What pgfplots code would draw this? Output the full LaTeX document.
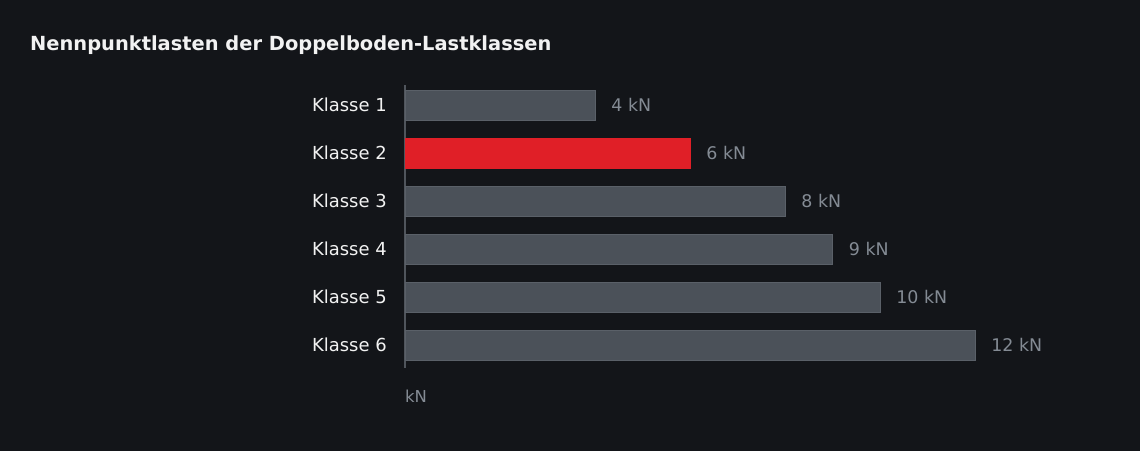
\documentclass[border=0pt]{standalone}
\usepackage{pgfplots}
\pgfplotsset{compat=1.18}
\usepackage{fontspec}
\setmainfont{DejaVu Sans}
\definecolor{bg}{HTML}{131519}
\definecolor{bargray}{HTML}{4B5159}
\definecolor{baredge}{HTML}{5A6068}
\definecolor{barred}{HTML}{E01F27}
\definecolor{txtw}{HTML}{F2F2F2}
\definecolor{txtg}{HTML}{848B94}
\definecolor{axgray}{HTML}{50555C}
\begin{document}
\begin{tikzpicture}
\useasboundingbox (0bp,0bp) rectangle (1140bp,451bp);
\fill[bg] (0bp,0bp) rectangle (1140bp,451bp);
\node[anchor=west, inner sep=0pt, text=txtw,
      font=\bfseries\fontsize{19.5}{23}\selectfont] at (30bp,406bp)
  {Nennpunktlasten der Doppelboden-Lastklassen};
\begin{axis}[
  at={(405bp,83bp)}, anchor=south west,
  scale only axis,
  width=570bp, height=283bp,
  xbar, bar width=30bp, bar shift=0pt,
  xmin=0, xmax=12,
  y dir=reverse,
  ymin=0.583, ymax=6.479,
  axis x line=none,
  axis y line=left,
  y axis line style={-, draw=axgray, line width=1.2bp},
  ytick={1,2,3,4,5,6},
  yticklabels={Klasse 1,Klasse 2,Klasse 3,Klasse 4,Klasse 5,Klasse 6},
  ytick style={draw=none},
  yticklabel style={anchor=east, inner sep=0pt, xshift=-16bp, text=txtw,
                    font=\fontsize{18}{21}\selectfont},
  clip=false,
  point meta=explicit symbolic,
  nodes near coords,
  nodes near coords style={anchor=west, inner sep=0pt, xshift=16bp,
                           text=txtg, font=\fontsize{17.5}{20}\selectfont},
]
\addplot[fill=bargray, draw=baredge, line width=0.8bp] coordinates {
  (4,1) [4 kN]
  (8,3) [8 kN]
  (9,4) [9 kN]
  (10,5) [10 kN]
  (12,6) [12 kN]
};
\addplot[fill=barred, draw=barred, line width=0.8bp] coordinates {
  (6,2) [6 kN]
};
\end{axis}
\node[anchor=west, inner sep=0pt, text=txtg,
      font=\fontsize{16.5}{19}\selectfont] at (405bp,55bp) {kN};
\end{tikzpicture}
\end{document}
